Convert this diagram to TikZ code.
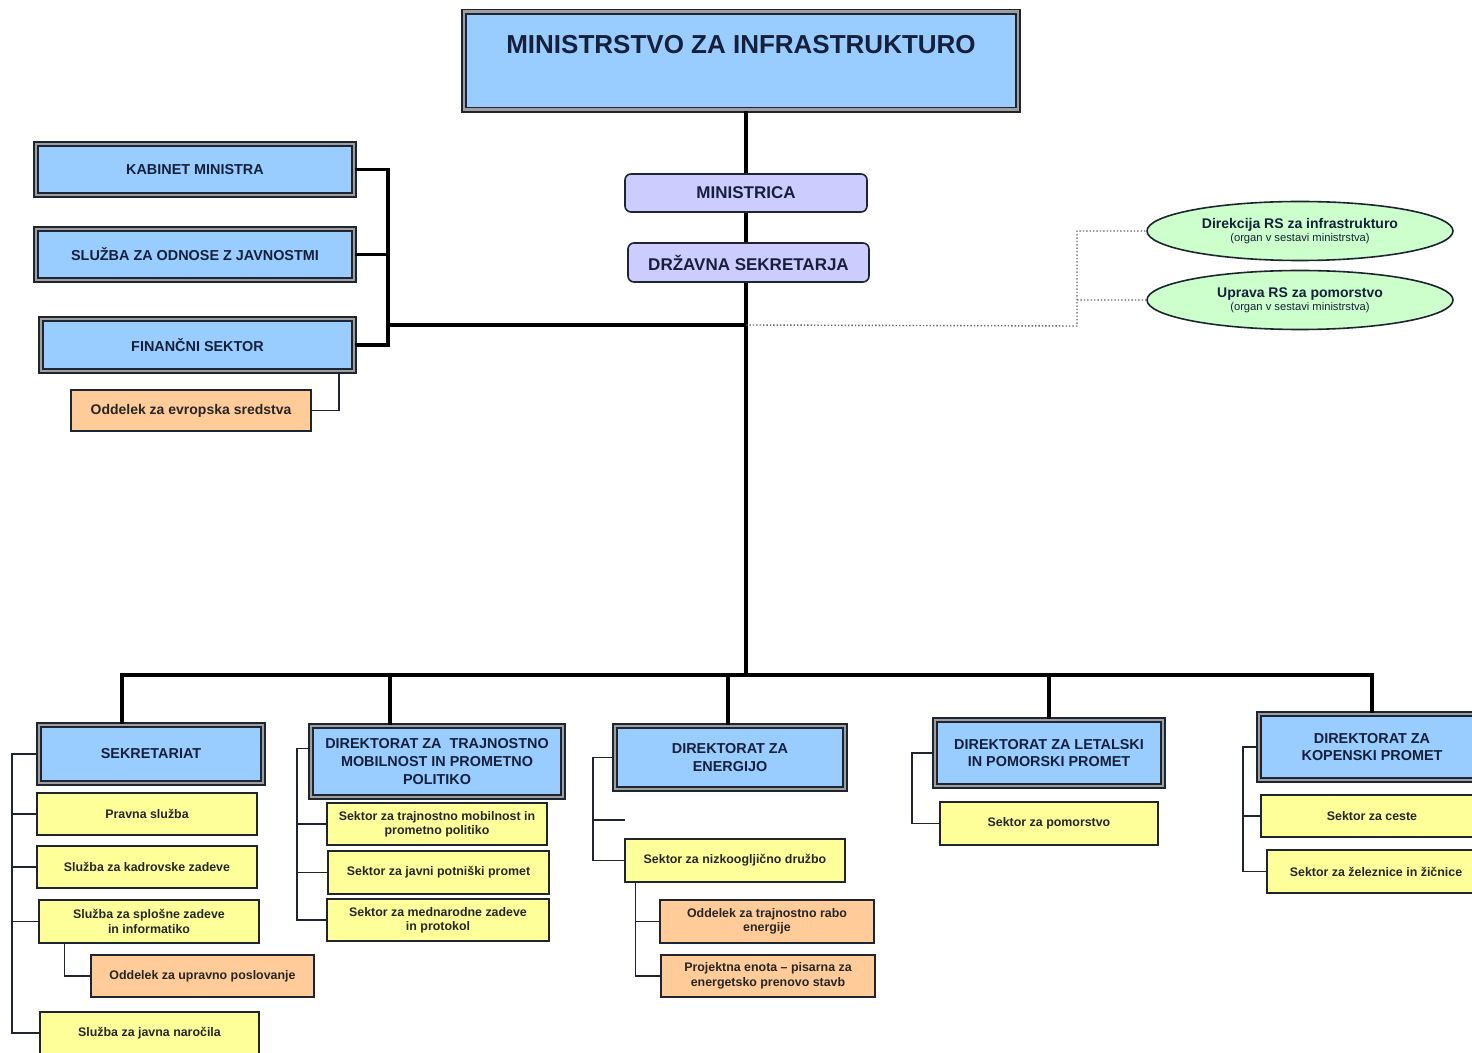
\documentclass[tikz,border=0pt]{standalone}
\usepackage{fontspec}
\setmainfont{Liberation Sans}
\usetikzlibrary{shapes.geometric, calc}
\definecolor{boxblue}{HTML}{99CCFF}
\definecolor{lilacfill}{HTML}{CCCCFF}
\definecolor{ovalgreen}{HTML}{CCFFCC}
\definecolor{yelfill}{HTML}{FFFF99}
\definecolor{orafill}{HTML}{FFCC99}
\definecolor{linedark}{HTML}{1E2530}
\definecolor{textdark}{HTML}{16203A}

\begin{document}
\begin{tikzpicture}[
  x=0.5pt, y=-0.5pt,
  every node/.style={inner sep=1pt, align=center, text=textdark},
  bluebox/.style={draw=linedark, double=gray!75, line width=0.8pt, double distance=1.3pt,
    fill=boxblue, font=\fontsize{7.2}{8.8}\selectfont\bfseries},
  lilac/.style={draw=linedark, line width=0.8pt, rounded corners=3pt, fill=lilacfill,
    font=\fontsize{8.5}{10}\selectfont\bfseries},
  oval/.style={ellipse, draw=linedark, line width=0.8pt, fill=ovalgreen, inner sep=0pt,
    minimum width=153pt, minimum height=29.5pt, font=\fontsize{7}{8}\selectfont\bfseries},
  yel/.style={draw=linedark, line width=0.6pt, fill=yelfill, text=black!85,
    font=\fontsize{6.2}{7.2}\selectfont\bfseries},
  ora/.style={yel, fill=orafill},
  bus/.style={draw=black, line width=1.6pt},
  link/.style={draw=linedark, line width=0.7pt},
  dotl/.style={draw=gray!80!black, densely dotted, line width=0.7pt}
  ]
  \clip (0,0) rectangle (1472,1053);
  \fill[white] (0,0) rectangle (1472,1053);

  % top of the chart
  \node[bluebox, anchor=north, inner sep=0pt, minimum width=277pt, text height=21pt, text depth=28pt,
    font=\fontsize{13}{15}\selectfont\bfseries] (min) at (741,11) {MINISTRSTVO ZA INFRASTRUKTURO};
  \node[lilac, minimum width=121pt, minimum height=19pt] (mca) at (746,193) {MINISTRICA};
  \node[lilac, minimum width=120.5pt, minimum height=19.5pt] (dse) at (748.5,262.5) {DRŽAVNA SEKRETARJA};

  \node[oval] (dir) at (1300,231) {Direkcija RS za infrastrukturo\\[-1.5pt]
    {\fontsize{5.6}{6.4}\selectfont\mdseries (organ v sestavi ministrstva)}};
  \node[oval] (upr) at (1300,300) {Uprava RS za pomorstvo\\[-1.5pt]
    {\fontsize{5.6}{6.4}\selectfont\mdseries (organ v sestavi ministrstva)}};

  % left staff units
  \node[bluebox, minimum width=159pt, minimum height=25.5pt] (kab) at (195,169.5) {KABINET MINISTRA};
  \node[bluebox, minimum width=159pt, minimum height=25.5pt] (sluz) at (195,254.5) {SLUŽBA ZA ODNOSE Z JAVNOSTMI};
  \node[bluebox, minimum width=156.5pt, minimum height=26pt] (fin) at (197.5,345) {FINANČNI SEKTOR};
  \node[ora, minimum width=120pt, minimum height=20.5pt, font=\fontsize{7}{8}\selectfont\bfseries]
    (evr) at (191,410.5) {Oddelek za evropska sredstva};

  \coordinate (cj) at (746,325);
  \coordinate (bus) at (746,675);
  \coordinate (lb) at (388,325);
  \coordinate (og) at (1077,326);

  \draw[bus] (min.south -| mca.north) -- (mca.north);
  \draw[bus] (mca.south) -- (mca.south |- dse.north);
  \draw[bus] (mca.south |- dse.south) -- (cj) -- (bus);
  \draw[bus] (kab.east) -| (lb) (sluz.east) -- (sluz.east -| lb) (fin.east) -| (lb) -- (cj);
  \draw[dotl] (cj) -- (og) |- (dir.west) (og |- upr.west) -- (upr.west);
  \draw[link] ([xshift=-8pt]fin.south east) |- (evr.east);

  % directorates
  \node[bluebox, minimum width=112pt, minimum height=29pt] (sek) at (151,754) {SEKRETARIAT};
  \node[bluebox, minimum width=126pt, minimum height=35.5pt] (dtm) at (437,761.5)
    {DIREKTORAT ZA \ TRAJNOSTNO\\MOBILNOST IN PROMETNO\\POLITIKO};
  \node[bluebox, minimum width=115pt, minimum height=31.5pt] (den) at (730,757.5) {DIREKTORAT ZA\\ENERGIJO};
  \node[bluebox, minimum width=114pt, minimum height=33pt] (dlp) at (1049,753)
    {DIREKTORAT ZA LETALSKI\\IN POMORSKI PROMET};
  \node[bluebox, minimum width=113pt, minimum height=33pt] (dkp) at (1372,747) {DIREKTORAT ZA\\KOPENSKI PROMET};

  \draw[bus] ([xshift=-14.5pt]sek.north) |- (bus);
  \draw[bus] ([xshift=-23.5pt]dtm.north) |- (bus);
  \draw[bus] ([xshift=-1pt]den.north) |- (bus);
  \draw[bus] (dlp.north) |- (bus);
  \draw[bus] (dkp.north) |- (bus);

  % sekretariat
  \node[yel, minimum width=110pt, minimum height=21pt] (y1) at (147,814) {Pravna služba};
  \node[yel, minimum width=110pt, minimum height=21pt] (y2) at (147,867) {Služba za kadrovske zadeve};
  \node[yel, minimum width=110pt, minimum height=21.5pt] (y3) at (149,921.5) {Služba za splošne zadeve\\in informatiko};
  \node[ora, minimum width=111.5pt, minimum height=21pt] (o1) at (202.5,976) {Oddelek za upravno poslovanje};
  \node[yel, minimum width=109.5pt, minimum height=21pt] (y4) at (149.5,1033) {Služba za javna naročila};
  \coordinate (s1) at (12,0);
  \draw[link] (sek.west) -| (s1 |- y4.west) -- (y4.west);
  \foreach \b in {y1,y2,y3}
    \draw[link] (s1 |- \b.west) -- (\b.west);
  \coordinate (q1) at ([xshift=13pt]y3.south west);
  \draw[link] (q1) |- (o1.west);

  % trajnostna mobilnost
  \node[yel, minimum width=110pt, minimum height=21pt] (t1) at (437,824) {Sektor za trajnostno mobilnost in\\prometno politiko};
  \node[yel, minimum width=110.5pt, minimum height=21.5pt] (t2) at (438.5,872.5) {Sektor za javni potniški promet};
  \node[yel, minimum width=111pt, minimum height=21pt] (t3) at (438,920) {Sektor za mednarodne zadeve\\in protokol};
  \coordinate (s2) at (297,0);
  \draw[link] ([yshift=6.5pt]dtm.west) -| (s2 |- t3.west) -- (t3.west);
  \foreach \b in {t1,t2}
    \draw[link] (s2 |- \b.west) -- (\b.west);

  % energija
  \node[yel, minimum width=110pt, minimum height=21.5pt] (ny) at (735,860.5) {Sektor za nizkoogljično družbo};
  \node[ora, minimum width=107pt, minimum height=21.5pt] (e1) at (767,921.5) {Oddelek za trajnostno rabo\\energije};
  \node[ora, minimum width=107pt, minimum height=21pt] (e2) at (768,976) {Projektna enota – pisarna za\\energetsko prenovo stavb};
  \coordinate (s3) at (593,0);
  \coordinate (dst) at (625,820);
  \draw[link] (den.west) -| (s3 |- ny.west) -- (ny.west);
  \draw[link] (s3 |- dst) -- (dst);
  \coordinate (n1) at ([xshift=5.5pt]ny.south west);
  \draw[link] (n1) |- (e2.west);
  \draw[link] (n1 |- e1.west) -- (e1.west);

  % letalski in pomorski promet
  \node[yel, minimum width=109pt, minimum height=21.5pt] (pom) at (1049,823.5) {Sektor za pomorstvo};
  \coordinate (s4) at (912,0);
  \draw[link] (dlp.west) -| (s4 |- pom.west) -- (pom.west);

  % kopenski promet
  \node[yel, minimum width=111pt, minimum height=21pt] (ces) at (1372,816) {Sektor za ceste};
  \node[yel, minimum width=109pt, minimum height=21.5pt] (zel) at (1376,871.5) {Sektor za železnice in žičnice};
  \coordinate (s5) at (1243,0);
  \draw[link] (dkp.west) -| (s5 |- zel.west) -- (zel.west);
  \draw[link] (s5 |- ces.west) -- (ces.west);
\end{tikzpicture}
\end{document}
